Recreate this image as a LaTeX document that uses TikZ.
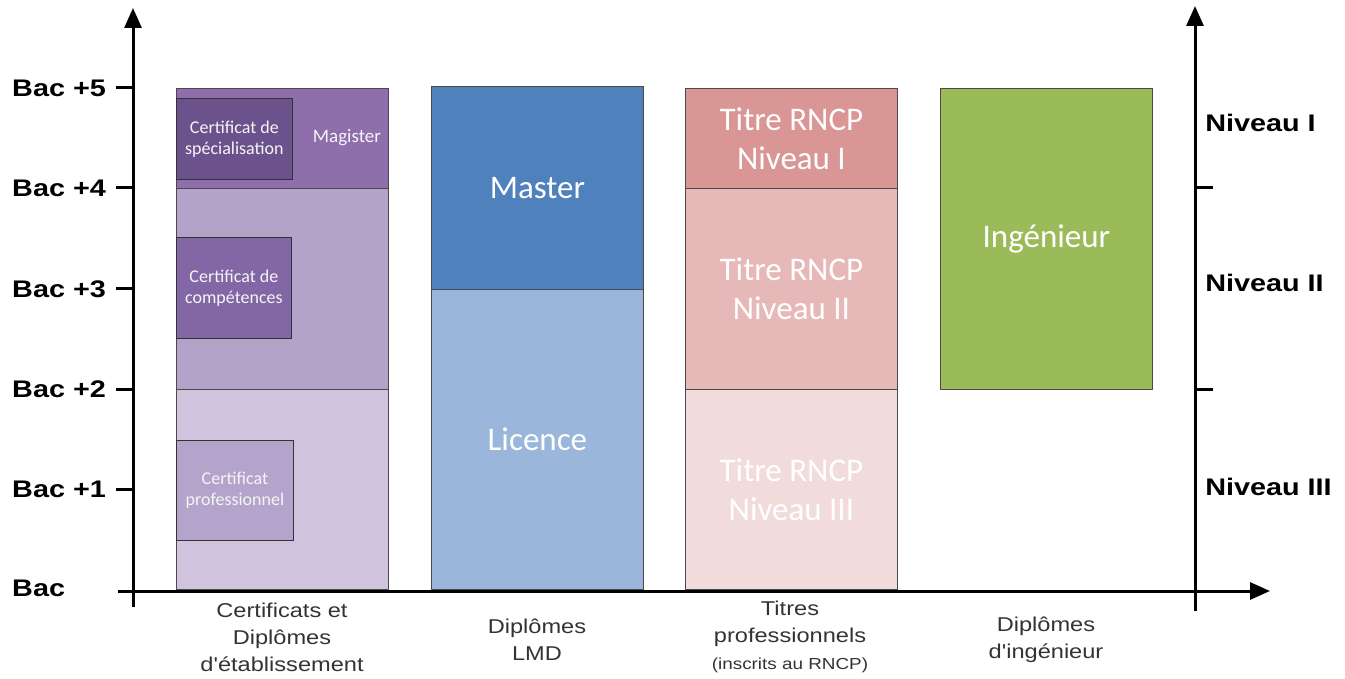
\documentclass[tikz,border=0pt]{standalone}
\usepackage{fontspec}
\setmainfont{Liberation Sans}
\newfontfamily\xl{Liberation Sans}[Ligatures=TeXOff]
\newfontfamily\calib{Carlito}
\usetikzlibrary{arrows.meta}
\definecolor{pA}{HTML}{8E6FAB}
\definecolor{pB}{HTML}{B3A3C9}
\definecolor{pC}{HTML}{CFC3DD}
\definecolor{pSpec}{HTML}{6C528D}
\definecolor{pComp}{HTML}{8366A5}
\definecolor{pProf}{HTML}{B4A3CA}
\definecolor{bA}{HTML}{4F81BD}
\definecolor{bB}{HTML}{9AB6DA}
\definecolor{rA}{HTML}{D99694}
\definecolor{rB}{HTML}{E6B9B8}
\definecolor{rC}{HTML}{F2DCDB}
\definecolor{gA}{HTML}{9BBB59}
\definecolor{edge}{HTML}{4A4A4A}
\definecolor{lab}{HTML}{333333}
\begin{document}
\begin{tikzpicture}[x=1pt,y=-1pt,
  seg/.style={draw=edge, line width=0.8pt, inner sep=0pt, anchor=north west,
    text=white, align=center, minimum width=212pt, font=\calib\fontsize{33}{39}\selectfont},
  inbox/.style={draw=black!80, line width=0.8pt, inner sep=0pt, anchor=north west,
    text=white!92!gray, align=center, font=\calib\fontsize{18}{21}\selectfont},
  axis/.style={line width=3pt, -{Triangle[length=20pt,width=17pt]}},
  tick/.style={line width=3pt},
  ylab/.style={anchor=west, font=\bfseries\fontsize{24}{28}\selectfont, xscale=1.2},
  xlab/.style={align=center, text=lab, font=\xl\fontsize{20}{27}\selectfont, xscale=1.18}
]
\useasboundingbox (0,0) rectangle (1345,679);

% Column 1
\node[seg, fill=pA, minimum height=100pt] (c1a) at (176,88) {};
\node[seg, fill=pB, minimum height=201pt] (c1b) at (176,188) {};
\node[seg, fill=pC, minimum height=200pt] (c1c) at (176,389) {};
\node[inbox, fill=pSpec, minimum width=116pt, minimum height=81pt] (spec) at (176,98) {Certificat de\\spécialisation};
\node[inbox, fill=pComp, minimum width=115pt, minimum height=101pt] (comp) at (176,237) {Certificat de\\compétences};
\node[inbox, fill=pProf, minimum width=117pt, minimum height=100pt] (prof) at (176,440) {Certificat\\professionnel};
\node[text=white!92!gray, font=\calib\fontsize{19}{21}\selectfont] (mag) at (347,138) {Magister};

% Column 2
\node[seg, fill=bA, minimum height=203pt] (master) at (431,86) {Master};
\node[seg, fill=bB, minimum height=300pt] (licence) at (431,289) {Licence};

% Column 3
\node[seg, fill=rA, minimum height=100pt] (r1) at (685,88) {Titre RNCP\\Niveau I};
\node[seg, fill=rB, minimum height=201pt] (r2) at (685,188) {Titre RNCP\\Niveau II};
\node[seg, fill=rC, minimum height=200pt] (r3) at (685,389) {Titre RNCP\\Niveau III};

% Column 4
\node[seg, fill=gA, minimum height=301pt] (ing) at (940,88) {Ingénieur};

% Axes
\coordinate (yb) at (133,607);
\coordinate (yt) at (133,8);
\coordinate (xl) at (118,591);
\coordinate (xr) at (1270,591);
\coordinate (rb) at (1195,611);
\coordinate (rt) at (1195,6);
\draw[axis] (yb) -- (yt);
\draw[axis] (xl) -- (xr);
\draw[axis] (rb) -- (rt);

\foreach \yy/\nm in {88/5,188/4,289/3,389/2,489/1}{
  \coordinate (tl\nm) at (116,\yy);
  \coordinate (tr\nm) at (133,\yy);
  \draw[tick] (tl\nm) -- (tr\nm);
}
\coordinate (ra) at (1195,188);
\coordinate (rae) at (1213,188);
\coordinate (rbb) at (1195,389);
\coordinate (rbe) at (1213,389);
\draw[tick] (ra) -- (rae);
\draw[tick] (rbb) -- (rbe);

% Y labels
\node[ylab] (b5) at (8,88) {Bac +5};
\node[ylab] (b4) at (8,188) {Bac +4};
\node[ylab] (b3) at (8,289) {Bac +3};
\node[ylab] (b2) at (8,389) {Bac +2};
\node[ylab] (b1) at (8,489) {Bac +1};
\node[ylab] (b0) at (8,588) {Bac};

\node[ylab] (n1) at (1201,123) {Niveau I};
\node[ylab] (n2) at (1201,283) {Niveau II};
\node[ylab] (n3) at (1201,487) {Niveau III};

% X labels
\node[xlab] (l1) at (282,637) {Certificats et\\Diplômes\\d'établissement};
\node[xlab] (l2) at (537,640) {Diplômes\\LMD};
\node[xlab] (l3) at (790,637) {Titres\\professionnels\\{\fontsize{16}{20}\selectfont (inscrits au RNCP)}};
\node[xlab] (l4) at (1046,640) {Diplômes\\d'ingénieur};
\end{tikzpicture}
\end{document}
